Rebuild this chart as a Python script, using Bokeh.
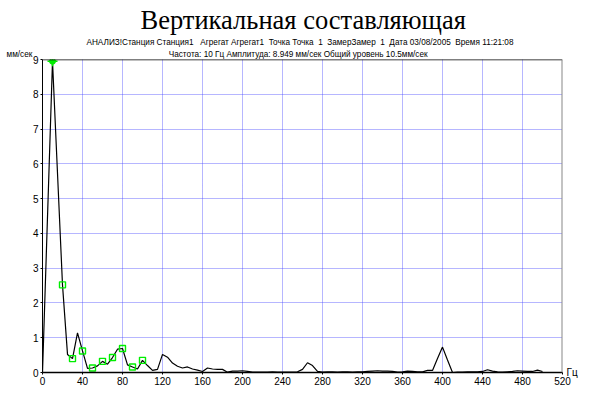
from bokeh.plotting import figure
from bokeh.models import Range1d, FixedTicker, Span, Title, LinearAxis
from bokeh.embed import file_html
from bokeh.resources import INLINE

# ---- data ----
freq = list(range(0, 505, 5))
amp = [0.0, 4.47, 8.949, 5.73, 2.52, 0.52, 0.40, 1.14, 0.62, 0.12,
       0.13, 0.19, 0.32, 0.24, 0.43, 0.67, 0.69, 0.22, 0.16, 0.10,
       0.35, 0.20, 0.06, 0.09, 0.52, 0.44, 0.27, 0.18, 0.13, 0.16,
       0.10, 0.07, 0.03, 0.13, 0.10, 0.09, 0.09, 0.01, 0.04, 0.04,
       0.05, 0.03, 0.01, 0.01, 0.01, 0.01, 0.02, 0.01, 0.01, 0.01,
       0.01, 0.02, 0.09, 0.28, 0.20, 0.03, 0.01, 0.02, 0.02, 0.01,
       0.02, 0.02, 0.01, 0.02, 0.02, 0.03, 0.04, 0.05, 0.04, 0.04,
       0.03, 0.01, 0.02, 0.04, 0.03, 0.02, 0.02, 0.06, 0.06, 0.40,
       0.73, 0.36, 0.00, 0.01, 0.01, 0.02, 0.02, 0.02, 0.03, 0.08,
       0.04, 0.02, 0.01, 0.02, 0.03, 0.05, 0.04, 0.03, 0.03, 0.07,
       0.03]
peak_freq = [10]
peak_amp = [8.949]
harm_freq = [20, 30, 40, 50, 60, 70, 80, 90, 100]
harm_amp = [2.52, 0.40, 0.62, 0.13, 0.32, 0.43, 0.69, 0.16, 0.35]
x_ticks = list(range(0, 521, 40))
y_ticks = list(range(0, 10))
X_MAX = 520

NB = "\u00a0"
title_text = "Вертикальная составляющая"
sub1 = ("АНАЛИЗ!Станция Станция1" + NB * 3 + "Агрегат Агрегат1" + NB * 2 +
        "Точка Точка" + NB * 2 + "1" + NB * 2 + "ЗамерЗамер" + NB * 2 + "1" + NB * 2 +
        "Дата 03/08/2005" + NB * 2 + "Время 11:21:08")
sub2 = "Частота: 10 Гц Амплитуда: 8.949 мм/сек Общий уровень 10.5мм/сек"
y_unit = "мм/сек"
x_unit = "Гц"

SANS = "Liberation Sans"

W, H = 580, 387
p = figure(width=W, height=H, output_backend="svg", toolbar_location=None,
           x_range=Range1d(0, X_MAX), y_range=Range1d(0, 9),
           min_border_left=42, min_border_right=18, min_border_top=59,
           min_border_bottom=15, background_fill_color="white",
           border_fill_color="white")
p.outline_line_color = None

# titles (first added sits closest to the frame); the y unit shares the
# second subtitle's row, at the far left
p.add_layout(Title(text=y_unit + NB * 60 + sub2, align="left", offset=-36,
                   standoff=2, text_font=SANS, text_font_size="8.2px",
                   text_font_style="normal", text_color="black"), "above")
p.add_layout(Title(text=sub1, align="left", offset=44, standoff=0,
                   text_font=SANS, text_font_size="8.2px",
                   text_font_style="normal", text_color="black"), "above")
p.add_layout(Title(text=title_text, align="left", offset=98, standoff=2,
                   text_font="Liberation Serif", text_font_size="26.5px",
                   text_font_style="normal", text_color="black"), "above")

# grid
for g in (p.xgrid, p.ygrid):
    g.grid_line_color = "#4848ff"
    g.grid_line_dash = "1 1"
    g.grid_line_width = 1
    g.grid_line_alpha = 0.8
p.xgrid.ticker = FixedTicker(ticks=x_ticks)
p.ygrid.ticker = FixedTicker(ticks=y_ticks)

# axes
p.xaxis.ticker = FixedTicker(ticks=x_ticks)
p.yaxis.ticker = FixedTicker(ticks=y_ticks)
for ax in (p.xaxis, p.yaxis):
    ax.axis_line_color = "black"
    ax.major_tick_line_color = "black"
    ax.major_tick_in = 0
    ax.major_tick_out = 2
    ax.minor_tick_line_color = None
    ax.major_label_text_font = SANS
    ax.major_label_text_font_size = "10px"
    ax.major_label_text_color = "black"
    ax.major_label_standoff = 2
p.xaxis.axis_line_width = 1.5

# x unit: a bare right-hand axis whose only tick sits at the frame bottom
p.extra_y_ranges = {"unit": Range1d(0, 1)}
unit_axis = LinearAxis(y_range_name="unit", ticker=FixedTicker(ticks=[0]),
                       major_label_overrides={0: x_unit},
                       axis_line_color=None, major_tick_line_color=None,
                       minor_tick_line_color=None, major_tick_in=0,
                       major_tick_out=0, major_label_standoff=4,
                       major_label_text_font=SANS,
                       major_label_text_font_size="10px",
                       major_label_text_color="black")
p.add_layout(unit_axis, "right")

# frame top & right border
p.add_layout(Span(location=9, dimension="width", line_color="black", line_width=1.5))
p.add_layout(Span(location=X_MAX, dimension="height", line_color="#888888",
                  line_width=2))

# spectrum
p.line(freq, amp, line_color="black", line_width=1.2)
p.scatter(harm_freq, harm_amp, marker="square", size=6, line_color="#00ee00",
          line_width=1.4, fill_color="white", fill_alpha=0.0)
p.scatter(peak_freq, peak_amp, marker="circle", size=6, line_color="#00ee00",
          fill_color="#00ee00")
p.scatter(peak_freq, peak_amp, marker="cross", size=10, line_color="#00ee00",
          line_width=1.5)

open("out.html", "w").write(file_html(p, INLINE))
